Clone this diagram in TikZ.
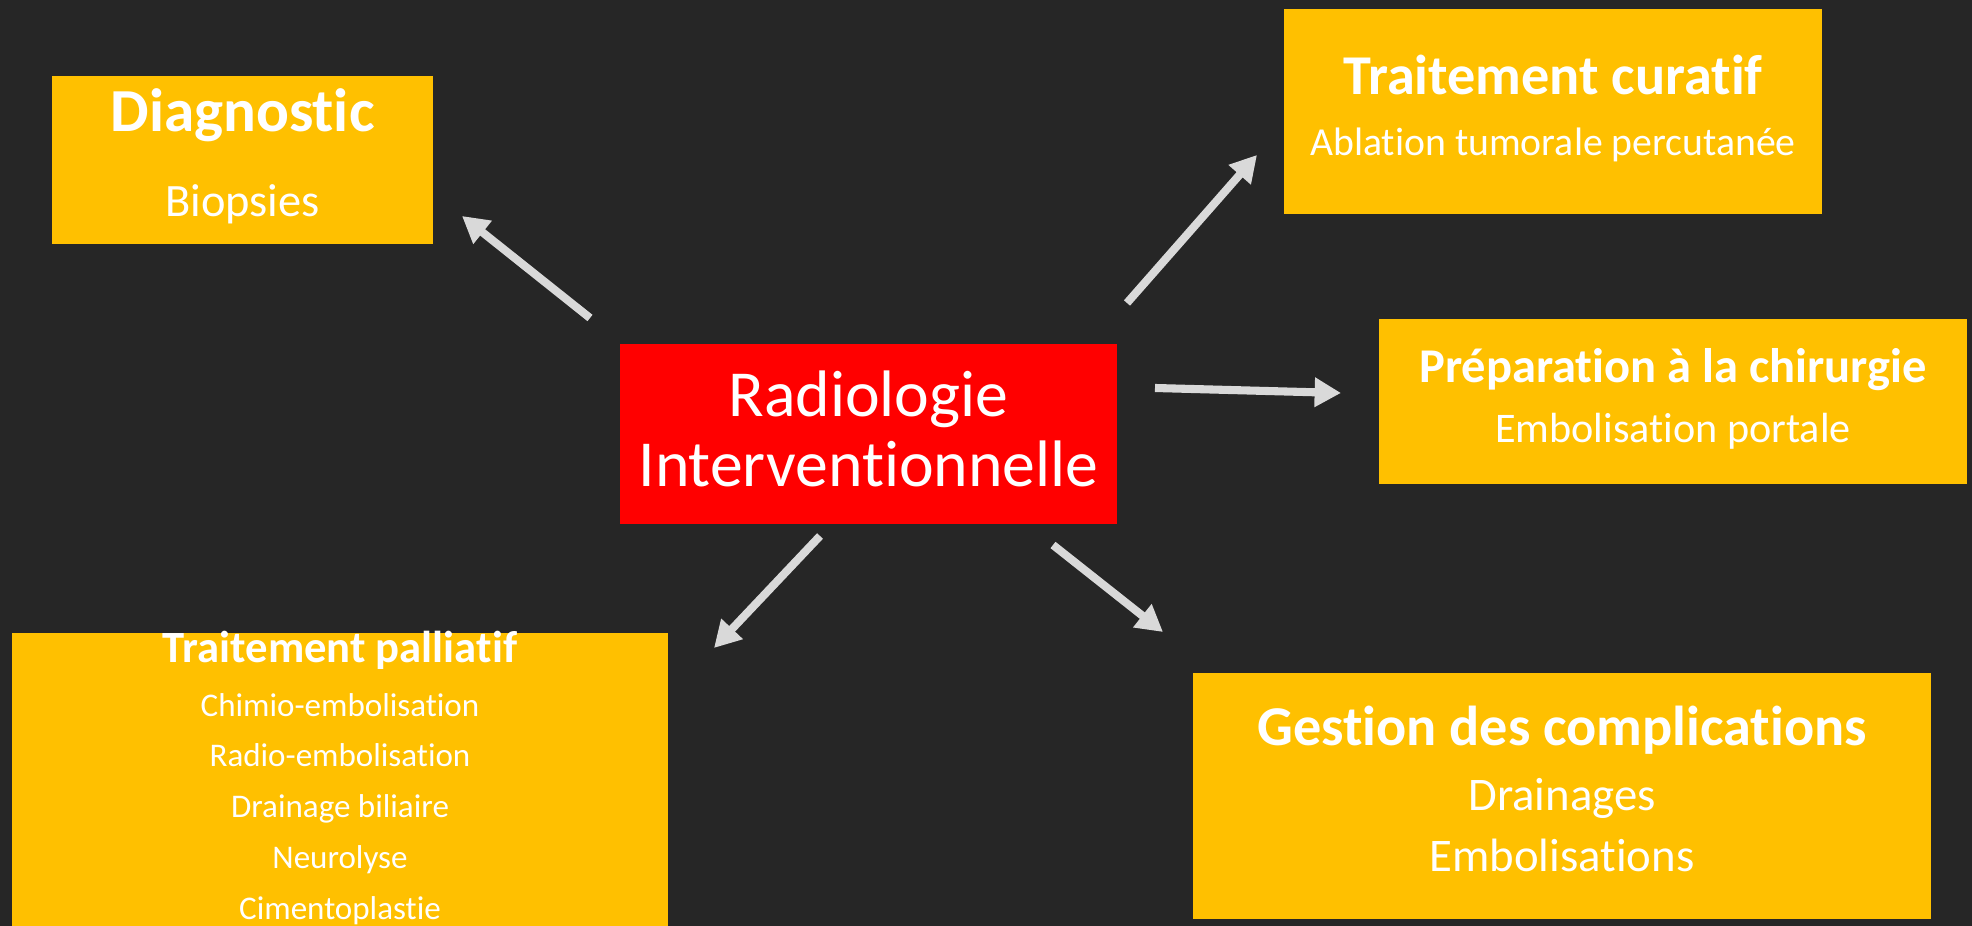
\documentclass[tikz,border=0pt]{standalone}
\usepackage{fontspec}
\setmainfont{Carlito}[Ligatures=NoCommon]
\usetikzlibrary{arrows.meta}

\definecolor{bgdark}{HTML}{262626}
\definecolor{boxyellow}{HTML}{FFC000}
\definecolor{boxred}{HTML}{FF0000}
\definecolor{arrowgrey}{HTML}{D9D9D9}

\newcommand{\fsize}[1]{\fontsize{#1pt}{#1pt}\selectfont}

\tikzset{
  box/.style={fill=boxyellow, inner sep=0pt, outer sep=0pt},
  centrebox/.style={fill=boxred, inner sep=0pt, outer sep=0pt},
  label/.style={text=white, anchor=base, inner sep=0pt},
  pointer/.style={draw=arrowgrey, line width=2.3pt, -{Triangle[length=7.5pt,width=8pt]}}
}

\begin{document}
\begin{tikzpicture}[x=0.1mm, y=0.1mm]
% Background (1 unit = 1 pixel of the slide)
\useasboundingbox (0,0) rectangle (1972,926);
\fill[bgdark] (0,0) rectangle (1972,926);
\clip (0,0) rectangle (1972,926);

% Boxes
\node[centrebox, minimum width=49.7mm, minimum height=18mm] (radio) at (868.5,492) {};
\node[box, minimum width=38.1mm, minimum height=16.8mm] (diag) at (242.5,766) {};
\node[box, minimum width=53.8mm, minimum height=20.5mm] (cura) at (1553,814.5) {};
\node[box, minimum width=58.8mm, minimum height=16.5mm] (prep) at (1673,524.5) {};
\node[box, minimum width=65.6mm, minimum height=29.3mm] (pall) at (340,146.5) {};
\node[box, minimum width=73.8mm, minimum height=24.6mm] (gest) at (1562,130) {};

% Centre
\node[label, font=\fsize{18.7}] (radio1) at (868.5,509) {Radiologie};
\node[label, font=\fsize{18.7}] (radio2) at (868.5,439) {Interventionnelle};

% Diagnostic
\node[label, font=\fsize{17.4}\bfseries] (diagT) at (242.5,794) {Diagnostic};
\node[label, font=\fsize{13.2}] (diag1) at (242.5,709) {Biopsies};

% Traitement curatif
\node[label, font=\fsize{16}\bfseries] (curaT) at (1553,831) {Traitement curatif};
\node[label, font=\fsize{11.3}] (cura1) at (1553,770) {Ablation tumorale percutanée};

% Preparation
\node[label, font=\fsize{13.8}\bfseries] (prepT) at (1673,543) {Préparation à la chirurgie};
\node[label, font=\fsize{12}] (prep1) at (1673,483) {Embolisation portale};

% Traitement palliatif
\node[label, font=\fsize{12.7}\bfseries] (pallT) at (340,263) {Traitement palliatif};
\node[label, font=\fsize{9.4}] (pall1) at (340,209) {Chimio-embolisation};
\node[label, font=\fsize{9.4}] (pall2) at (340,159) {Radio-embolisation};
\node[label, font=\fsize{9.4}] (pall3) at (340,108) {Drainage biliaire};
\node[label, font=\fsize{9.4}] (pall4) at (340,57) {Neurolyse};
\node[label, font=\fsize{9.4}] (pall5) at (340,6) {Cimentoplastie};

% Gestion des complications
\node[label, font=\fsize{16}\bfseries] (gestT) at (1562,180) {Gestion des complications};
\node[label, font=\fsize{13.3}] (gest1) at (1562,115) {Drainages};
\node[label, font=\fsize{13.3}] (gest2) at (1562,54) {Embolisations};

% Arrow ends
\coordinate (toDiagA) at (590,608);   \coordinate (toDiagB) at (462,710);
\coordinate (toCuraA) at (1127,623);  \coordinate (toCuraB) at (1257,771);
\coordinate (toPrepA) at (1155,538);  \coordinate (toPrepB) at (1341,533);
\coordinate (toPallA) at (820,390);   \coordinate (toPallB) at (714,278);
\coordinate (toGestA) at (1053,381);  \coordinate (toGestB) at (1163,294);

% Arrows
\draw[pointer] (toDiagA) -- (toDiagB);
\draw[pointer] (toCuraA) -- (toCuraB);
\draw[pointer] (toPrepA) -- (toPrepB);
\draw[pointer] (toPallA) -- (toPallB);
\draw[pointer] (toGestA) -- (toGestB);
\end{tikzpicture}
\end{document}
